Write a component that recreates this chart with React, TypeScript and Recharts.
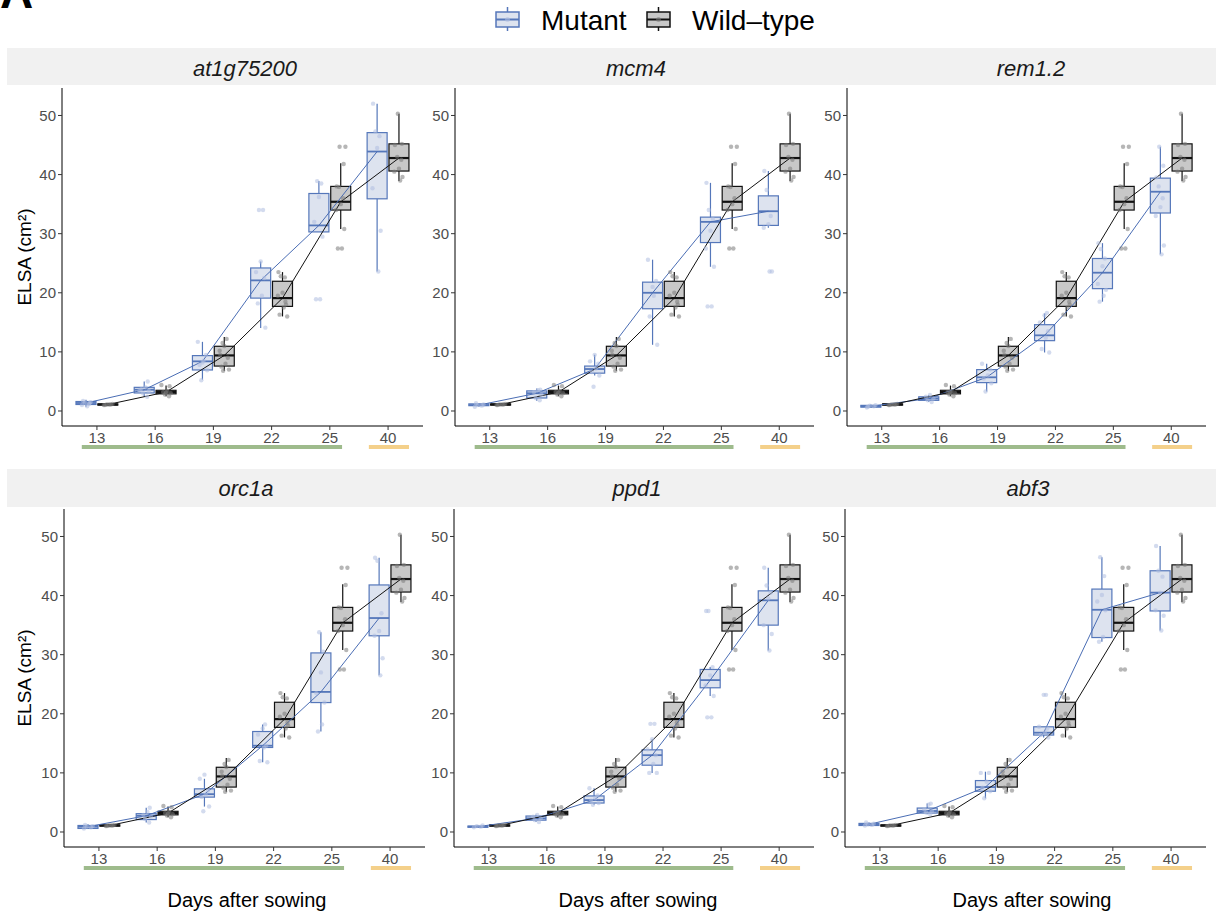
import React from "react";
import {
	Bar,
	ComposedChart,
	Line,
	ReferenceLine,
	Scatter,
	XAxis,
	YAxis,
} from "recharts";

const DAYS = ["13", "16", "19", "22", "25", "40"];
const Y_TICKS = [0, 10, 20, 30, 40, 50];
const GENES = ["at1g75200", "mcm4", "rem1.2", "orc1a", "ppd1", "abf3"];

// each box: [lower whisker, Q1, median, Q3, upper whisker], one per day
const WT_BOX = [
	[0.9, 1.0, 1.1, 1.2, 1.3],
	[2.5, 2.9, 3.2, 3.5, 4.3],
	[6.8, 7.6, 9.4, 10.95, 12.5],
	[16.0, 17.7, 19.1, 21.95, 23.5],
	[30.8, 34.0, 35.4, 38.0, 41.9],
	[38.9, 40.6, 42.8, 45.2, 50.3],
];
const WT_PTS = [
	[1.0, 1.1, 1.1, 1.2, 1.0, 1.1],
	[2.5, 2.8, 3.0, 3.2, 3.4, 4.2, 4.4, 3.1],
	[6.8, 7.0, 7.5, 8.0, 9.0, 10.2, 11.0, 12.2, 11.5, 9.5],
	[16.0, 16.3, 17.5, 18.0, 19.5, 20.0, 22.6, 22.8, 23.5, 18.5],
	[27.5, 27.5, 30.8, 34.0, 35.0, 36.0, 37.9, 38.0, 41.8, 44.7, 44.7],
	[39.0, 39.6, 40.5, 41.0, 42.5, 43.0, 45.0, 45.2, 50.3],
];

const AT1G75200_BOX = [
	[0.7, 1.1, 1.35, 1.6, 1.9],
	[2.4, 3.05, 3.6, 4.0, 5.0],
	[5.3, 6.94, 8.4, 9.37, 11.7],
	[14.05, 19.1, 22.1, 24.2, 25.3],
	[30.3, 30.3, 31.4, 36.8, 38.9],
	[23.6, 35.9, 43.9, 47.1, 52.0],
];
const AT1G75200_PTS = [
	[1.0, 1.2, 1.4, 1.5, 1.7, 0.8, 1.3],
	[2.4, 3.0, 3.4, 3.7, 4.0, 5.0, 3.5],
	[5.2, 6.9, 7.8, 8.5, 9.5, 11.7, 8.2],
	[14.1, 18.2, 19.5, 22.5, 23.5, 25.3, 34.0, 34.0],
	[18.9, 18.9, 29.5, 32.0, 36.2, 38.5, 38.9],
	[23.6, 30.5, 37.7, 44.5, 46.5, 47.3, 52.0],
];

const MCM4_BOX = [
	[0.7, 0.9, 1.0, 1.2, 1.3],
	[1.75, 2.2, 3.0, 3.4, 3.8],
	[6.0, 6.4, 7.1, 7.6, 9.5],
	[11.2, 17.3, 20.0, 21.8, 25.6],
	[24.4, 28.5, 32.0, 32.8, 38.6],
	[31.0, 31.4, 33.8, 36.4, 40.6],
];
const MCM4_PTS = [
	[0.7, 0.9, 1.0, 1.1, 1.3],
	[1.8, 2.2, 2.8, 3.2, 3.5, 3.6],
	[4.1, 6.0, 6.6, 7.2, 8.0, 8.4, 9.5],
	[11.2, 16.0, 19.5, 22.0, 25.6, 21.0],
	[17.7, 17.7, 24.4, 27.5, 30.5, 32.5, 34.0, 38.6],
	[23.6, 23.6, 31.0, 31.6, 33.0, 37.4, 40.6],
];

const REM12_BOX = [
	[0.5, 0.65, 0.8, 0.95, 1.1],
	[1.5, 1.8, 2.1, 2.4, 2.7],
	[3.3, 4.8, 5.7, 7.0, 8.0],
	[9.9, 11.9, 12.8, 14.6, 16.5],
	[18.5, 20.7, 23.4, 25.8, 28.4],
	[26.5, 33.5, 37.1, 39.4, 44.7],
];
const REM12_PTS = [
	[0.6, 0.8, 0.9, 1.0, 0.7],
	[1.5, 1.8, 2.1, 2.4, 2.7],
	[3.3, 4.7, 5.5, 6.0, 7.0, 8.0],
	[9.9, 10.5, 12.4, 13.5, 15.0, 16.2, 16.6],
	[18.5, 19.5, 20.5, 21.5, 24.5, 25.8, 27.4, 28.4],
	[26.5, 28.0, 33.0, 34.5, 36.0, 38.0, 39.5, 41.5, 44.7],
];

const ORC1A_BOX = [
	[0.5, 0.6, 0.9, 1.1, 1.3],
	[1.6, 2.1, 2.75, 3.1, 4.1],
	[4.3, 5.9, 6.4, 7.3, 9.0],
	[11.8, 14.3, 14.6, 17.0, 18.2],
	[17.0, 21.9, 23.7, 30.3, 33.8],
	[26.5, 33.2, 36.2, 41.8, 46.4],
];
const ORC1A_PTS = [
	[0.6, 0.8, 0.9, 1.0, 1.2],
	[1.6, 2.2, 2.6, 2.9, 3.4, 4.1],
	[3.5, 4.3, 5.9, 6.3, 7.0, 9.0, 9.7],
	[11.8, 12.0, 14.3, 14.6, 16.5, 17.5, 18.2],
	[17.0, 18.2, 21.9, 23.5, 27.0, 30.5, 33.8],
	[26.5, 29.4, 33.2, 34.0, 37.0, 45.9, 46.4],
];

const PPD1_BOX = [
	[0.7, 0.8, 0.9, 1.0, 1.1],
	[1.7, 2.0, 2.3, 2.7, 2.9],
	[4.6, 4.9, 5.4, 6.1, 7.4],
	[10.0, 11.3, 13.0, 13.9, 15.7],
	[23.0, 24.4, 25.7, 27.5, 27.9],
	[30.7, 35.0, 39.2, 40.8, 44.7],
];
const PPD1_PTS = [
	[0.8, 0.9, 1.0, 1.1],
	[1.7, 2.0, 2.3, 2.6, 2.9],
	[4.6, 4.9, 5.3, 5.7, 6.2, 7.4],
	[10.0, 10.0, 11.5, 13.0, 14.0, 15.7, 18.3, 18.3],
	[19.4, 19.4, 23.0, 24.8, 26.5, 27.9, 37.4, 37.4],
	[30.7, 33.5, 35.0, 39.5, 40.5, 41.7, 44.7],
];

const ABF3_BOX = [
	[1.0, 1.1, 1.3, 1.45, 1.6],
	[3.0, 3.2, 3.55, 4.05, 4.8],
	[5.7, 6.9, 7.6, 8.7, 10.2],
	[16.0, 16.4, 16.8, 17.8, 17.8],
	[32.2, 32.9, 37.6, 41.1, 46.5],
	[34.1, 37.4, 40.5, 44.2, 48.4],
];
const ABF3_PTS = [
	[1.1, 1.2, 1.3, 1.4, 1.6],
	[3.0, 3.3, 3.5, 3.8, 4.6, 4.8],
	[5.7, 6.9, 7.5, 8.5, 10.0, 10.0],
	[16.0, 16.4, 16.8, 17.5, 17.8, 23.2, 23.2],
	[32.2, 33.0, 37.5, 39.0, 40.1, 43.3, 46.5],
	[34.1, 36.6, 37.5, 40.5, 43.2, 44.2, 48.4],
];

const MUTANT_BOXES = [AT1G75200_BOX, MCM4_BOX, REM12_BOX, ORC1A_BOX, PPD1_BOX, ABF3_BOX];
const MUTANT_PTS = [AT1G75200_PTS, MCM4_PTS, REM12_PTS, ORC1A_PTS, PPD1_PTS, ABF3_PTS];

// layout of the six plot areas (page pixels)
const PLOTS = [
	{ left: 62, top: 88, width: 361 },
	{ left: 455, top: 88, width: 359 },
	{ left: 847, top: 88, width: 359 },
	{ left: 64, top: 509, width: 361 },
	{ left: 454, top: 509, width: 360 },
	{ left: 845, top: 509, width: 361 },
];
const TITLE_X = [245, 636, 1031, 246, 637, 1028];
const XLAB_X = [247, 638, 1032];
const PLOT_H = 338;
const YAXIS_W = 50;
const XAXIS_H = 45;
const MARGIN = { top: 8, right: 10, bottom: 0, left: 0 };
const BOX_W = 20;

const DODGE = 0.1875;
const JITTER = [-0.07, 0.05, -0.02, 0.08, -0.05, 0.02, 0.06, -0.08, 0.0, 0.04, -0.03];
const BAND_Y = -6.1;

const MUT = { stroke: "#5577ba", fill: "#dde3ef", line: "#4a6db4", pt: "#aebde0" };
const WT = { stroke: "#111111", fill: "#c8c8c8", line: "#111111", pt: "#7a7a7a" };
const FONT = "'Liberation Sans', Arial, Helvetica, sans-serif";

const boxRows = (box: number[][], group: string, off: number) =>
	box.map((b, i) => ({
		x: i + off,
		range: [b[0], b[4]],
		q1: b[1],
		med: b[2],
		q3: b[3],
		group,
	}));

const medRows = (box: number[][], off: number) =>
	box.map((b, i) => ({ x: i + off, y: b[2] }));

const ptRows = (pts: number[][], off: number) =>
	pts.flatMap((vals, i) =>
		vals.map((v, k) => ({ x: i + off + JITTER[(k + i) % JITTER.length], y: v })),
	);

// draws one box-and-whisker; vertical scale taken from the bar's [lo, hi] span
const BoxShape = (props: any) => {
	const { x, y, width, height, payload } = props;
	if (!payload || x == null) return null;
	const [lo, hi] = payload.range;
	const top = Math.min(y, y + height);
	const bottom = Math.max(y, y + height);
	const k = (bottom - top) / (hi - lo);
	const py = (v: number) => bottom - (v - lo) * k;
	const c = payload.group === "mut" ? MUT : WT;
	const cx = x + width / 2;
	const bx = cx - BOX_W / 2;
	return (
		<g>
			<line x1={cx} x2={cx} y1={py(hi)} y2={py(payload.q3)} stroke={c.stroke} strokeWidth={1.2} />
			<line x1={cx} x2={cx} y1={py(payload.q1)} y2={py(lo)} stroke={c.stroke} strokeWidth={1.2} />
			<rect
				x={bx}
				y={py(payload.q3)}
				width={BOX_W}
				height={Math.max(py(payload.q1) - py(payload.q3), 0.5)}
				fill={c.fill}
				stroke={c.stroke}
				strokeWidth={1.2}
			/>
			<line
				x1={bx}
				x2={bx + BOX_W}
				y1={py(payload.med)}
				y2={py(payload.med)}
				stroke={c.stroke}
				strokeWidth={payload.group === "mut" ? 1.8 : 2.2}
			/>
		</g>
	);
};

const dot = (fill: string) => (p: any) =>
	<circle cx={p.cx} cy={p.cy} r={2.2} fill={fill} fillOpacity={0.55} />;

const Panel = ({ idx }: { idx: number }) => {
	const pos = PLOTS[idx];
	const data = [
		...boxRows(MUTANT_BOXES[idx], "mut", -DODGE),
		...boxRows(WT_BOX, "wt", DODGE),
	];
	const tick = { fill: "#4d4d4d", fontSize: 15, fontFamily: FONT };
	return (
		<div
			style={{
				position: "absolute",
				left: pos.left - YAXIS_W,
				top: pos.top - MARGIN.top,
			}}
		>
			<ComposedChart
				width={YAXIS_W + pos.width + MARGIN.right}
				height={MARGIN.top + PLOT_H + XAXIS_H}
				data={data}
				margin={MARGIN}
			>
				<XAxis
					type="number"
					dataKey="x"
					domain={[-0.6, 5.6]}
					ticks={[0, 1, 2, 3, 4, 5]}
					tickFormatter={(v: number) => DAYS[v]}
					interval={0}
					allowDataOverflow
					height={XAXIS_H}
					tick={tick}
					tickSize={4}
					axisLine={{ stroke: "#000", strokeWidth: 1 }}
					tickLine={{ stroke: "#333" }}
				/>
				<YAxis
					type="number"
					domain={[-2.54, 54.65]}
					ticks={Y_TICKS}
					interval={0}
					allowDataOverflow
					width={YAXIS_W}
					tick={tick}
					tickSize={4}
					axisLine={{ stroke: "#000", strokeWidth: 1 }}
					tickLine={{ stroke: "#333" }}
				/>
				<Bar dataKey="range" barSize={BOX_W} shape={BoxShape} isAnimationActive={false} />
				<Scatter
					data={ptRows(MUTANT_PTS[idx], -DODGE)}
					dataKey="y"
					shape={dot(MUT.pt)}
					isAnimationActive={false}
				/>
				<Scatter
					data={ptRows(WT_PTS, DODGE)}
					dataKey="y"
					shape={dot(WT.pt)}
					isAnimationActive={false}
				/>
				<Line
					data={medRows(MUTANT_BOXES[idx], -DODGE)}
					dataKey="y"
					type="linear"
					stroke={MUT.line}
					strokeWidth={1}
					dot={false}
					activeDot={false}
					isAnimationActive={false}
				/>
				<Line
					data={medRows(WT_BOX, DODGE)}
					dataKey="y"
					type="linear"
					stroke={WT.line}
					strokeWidth={1}
					dot={false}
					activeDot={false}
					isAnimationActive={false}
				/>
				<ReferenceLine
					segment={[
						{ x: -0.26, y: BAND_Y },
						{ x: 4.21, y: BAND_Y },
					]}
					stroke="#9ebb8c"
					strokeWidth={4}
					ifOverflow="visible"
				/>
				<ReferenceLine
					segment={[
						{ x: 4.67, y: BAND_Y },
						{ x: 5.36, y: BAND_Y },
					]}
					stroke="#f4d08a"
					strokeWidth={4}
					ifOverflow="visible"
				/>
			</ComposedChart>
		</div>
	);
};

const LegendKey = ({ x, c }: { x: number; c: typeof MUT }) => (
	<g>
		<line x1={x + 11.5} x2={x + 11.5} y1={7} y2={31} stroke={c.stroke} strokeWidth={1.5} />
		<rect x={x} y={12} width={23} height={15} fill={c.fill} stroke={c.stroke} strokeWidth={1.5} />
		<line x1={x} x2={x + 23} y1={19.5} y2={19.5} stroke={c.stroke} strokeWidth={2} />
		<circle cx={x + 11.5} cy={19.5} r={2.5} fill={c.pt} fillOpacity={0.55} />
	</g>
);

const Backdrop = () => (
	<svg
		width={1216}
		height={917}
		style={{ position: "absolute", left: 0, top: 0 }}
		fontFamily={FONT}
	>
		<rect x={7} y={48} width={1209} height={37} fill="#f1f1f1" />
		<rect x={7} y={469} width={1209} height={38} fill="#f1f1f1" />
		<text x={0} y={8} fontSize={46} fontWeight="bold" fill="#000">
			A
		</text>
		<LegendKey x={496} c={MUT} />
		<text x={541} y={30} fontSize={28} fill="#000">
			Mutant
		</text>
		<LegendKey x={647} c={WT} />
		<text x={692} y={30} fontSize={28} fill="#000">
			Wild–type
		</text>
		{GENES.map((g, i) => (
			<text
				key={g}
				x={TITLE_X[i]}
				y={i < 3 ? 76 : 496}
				fontSize={22}
				fontStyle="italic"
				textAnchor="middle"
				fill="#1a1a1a"
			>
				{g}
			</text>
		))}
		{[257, 678].map((cy) => (
			<text
				key={cy}
				transform={`translate(31,${cy}) rotate(-90)`}
				fontSize={19}
				textAnchor="middle"
				fill="#000"
			>
				ELSA (cm²)
			</text>
		))}
		{XLAB_X.map((cx) => (
			<text key={cx} x={cx} y={907} fontSize={20} textAnchor="middle" fill="#000">
				Days after sowing
			</text>
		))}
	</svg>
);

export default function App() {
	return (
		<div
			style={{
				position: "absolute",
				left: 0,
				top: 0,
				width: 1216,
				height: 917,
				background: "#fff",
				overflow: "hidden",
				fontFamily: FONT,
			}}
		>
			<Backdrop />
			{PLOTS.map((_, i) => (
				<Panel key={i} idx={i} />
			))}
		</div>
	);
}
